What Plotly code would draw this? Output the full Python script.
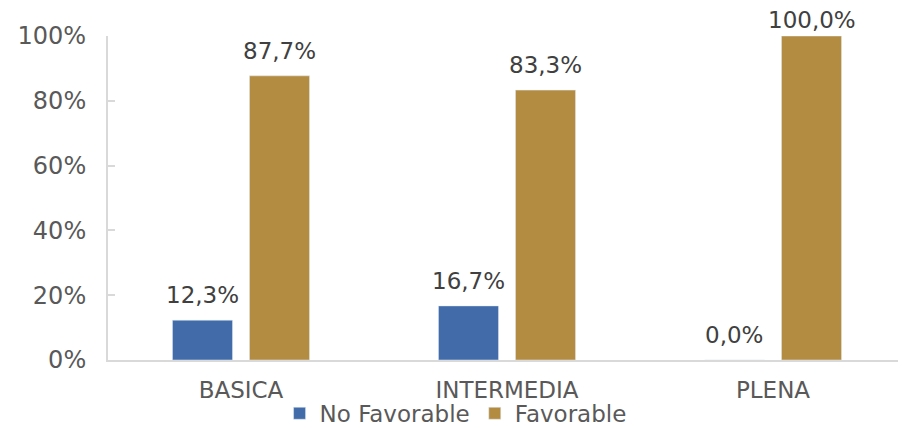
import plotly.graph_objects as go

categorias = ["BASICA", "INTERMEDIA", "PLENA"]
no_favorable = [12.3, 16.7, 0.0]
favorable = [87.7, 83.3, 100.0]

# geometría del gráfico (la página tiene 8px de margen en el body)
L, R, T, B = 100, 0, 28, 68
W, H = 898, 420
BARGAP = 0.421
slot = (W - L - R) / len(categorias) * (1 - BARGAP) / 2

fig = go.Figure()
fig.add_trace(go.Bar(x=categorias, y=no_favorable, name="No Favorable", marker_color="#416ca9"))
fig.add_trace(go.Bar(x=categorias, y=favorable, name="Favorable", marker_color="#b38c42"))

# etiquetas de datos un poco separadas de la barra, como en Excel
for serie, signo in ((no_favorable, -1), (favorable, 1)):
    for cat, v in zip(categorias, serie):
        fig.add_annotation(x=cat, y=v, text=f"{v:.1f}%".replace(".", ","), showarrow=False,
                           xshift=signo * slot / 2, yanchor="bottom",
                           yshift=10 if v < 100 else 1,
                           font=dict(size=23, color="#404040"))

fig.update_layout(
    width=W, height=H,
    margin=dict(l=L, r=R, t=T, b=B, autoexpand=False),
    paper_bgcolor="white", plot_bgcolor="white",
    font=dict(family="DejaVu Sans", size=23, color="#595959"),
    separators=",.",
    barmode="group", bargap=BARGAP, bargroupgap=0.22,
    showlegend=True,
    legend=dict(orientation="h", x=0.215, xanchor="left", yref="container", y=0.035, yanchor="middle",
                bgcolor="rgba(0,0,0,0)",
                font=dict(size=23, color="#595959"), itemwidth=30, tracegroupgap=0),
    xaxis=dict(showline=True, linecolor="#d9d9d9", linewidth=2, ticks="", automargin=False,
               ticklabelstandoff=8, tickfont=dict(size=23)),
    yaxis=dict(range=[0, 100], dtick=20, ticksuffix="%", showgrid=False, zeroline=False,
               showline=True, linecolor="#d9d9d9", linewidth=2, automargin=False,
               ticks="inside", ticklen=7, tickcolor="#d9d9d9", tickwidth=2,
               ticklabelstandoff=15, tickfont=dict(size=24)),
)

fig.write_html("out.html")
